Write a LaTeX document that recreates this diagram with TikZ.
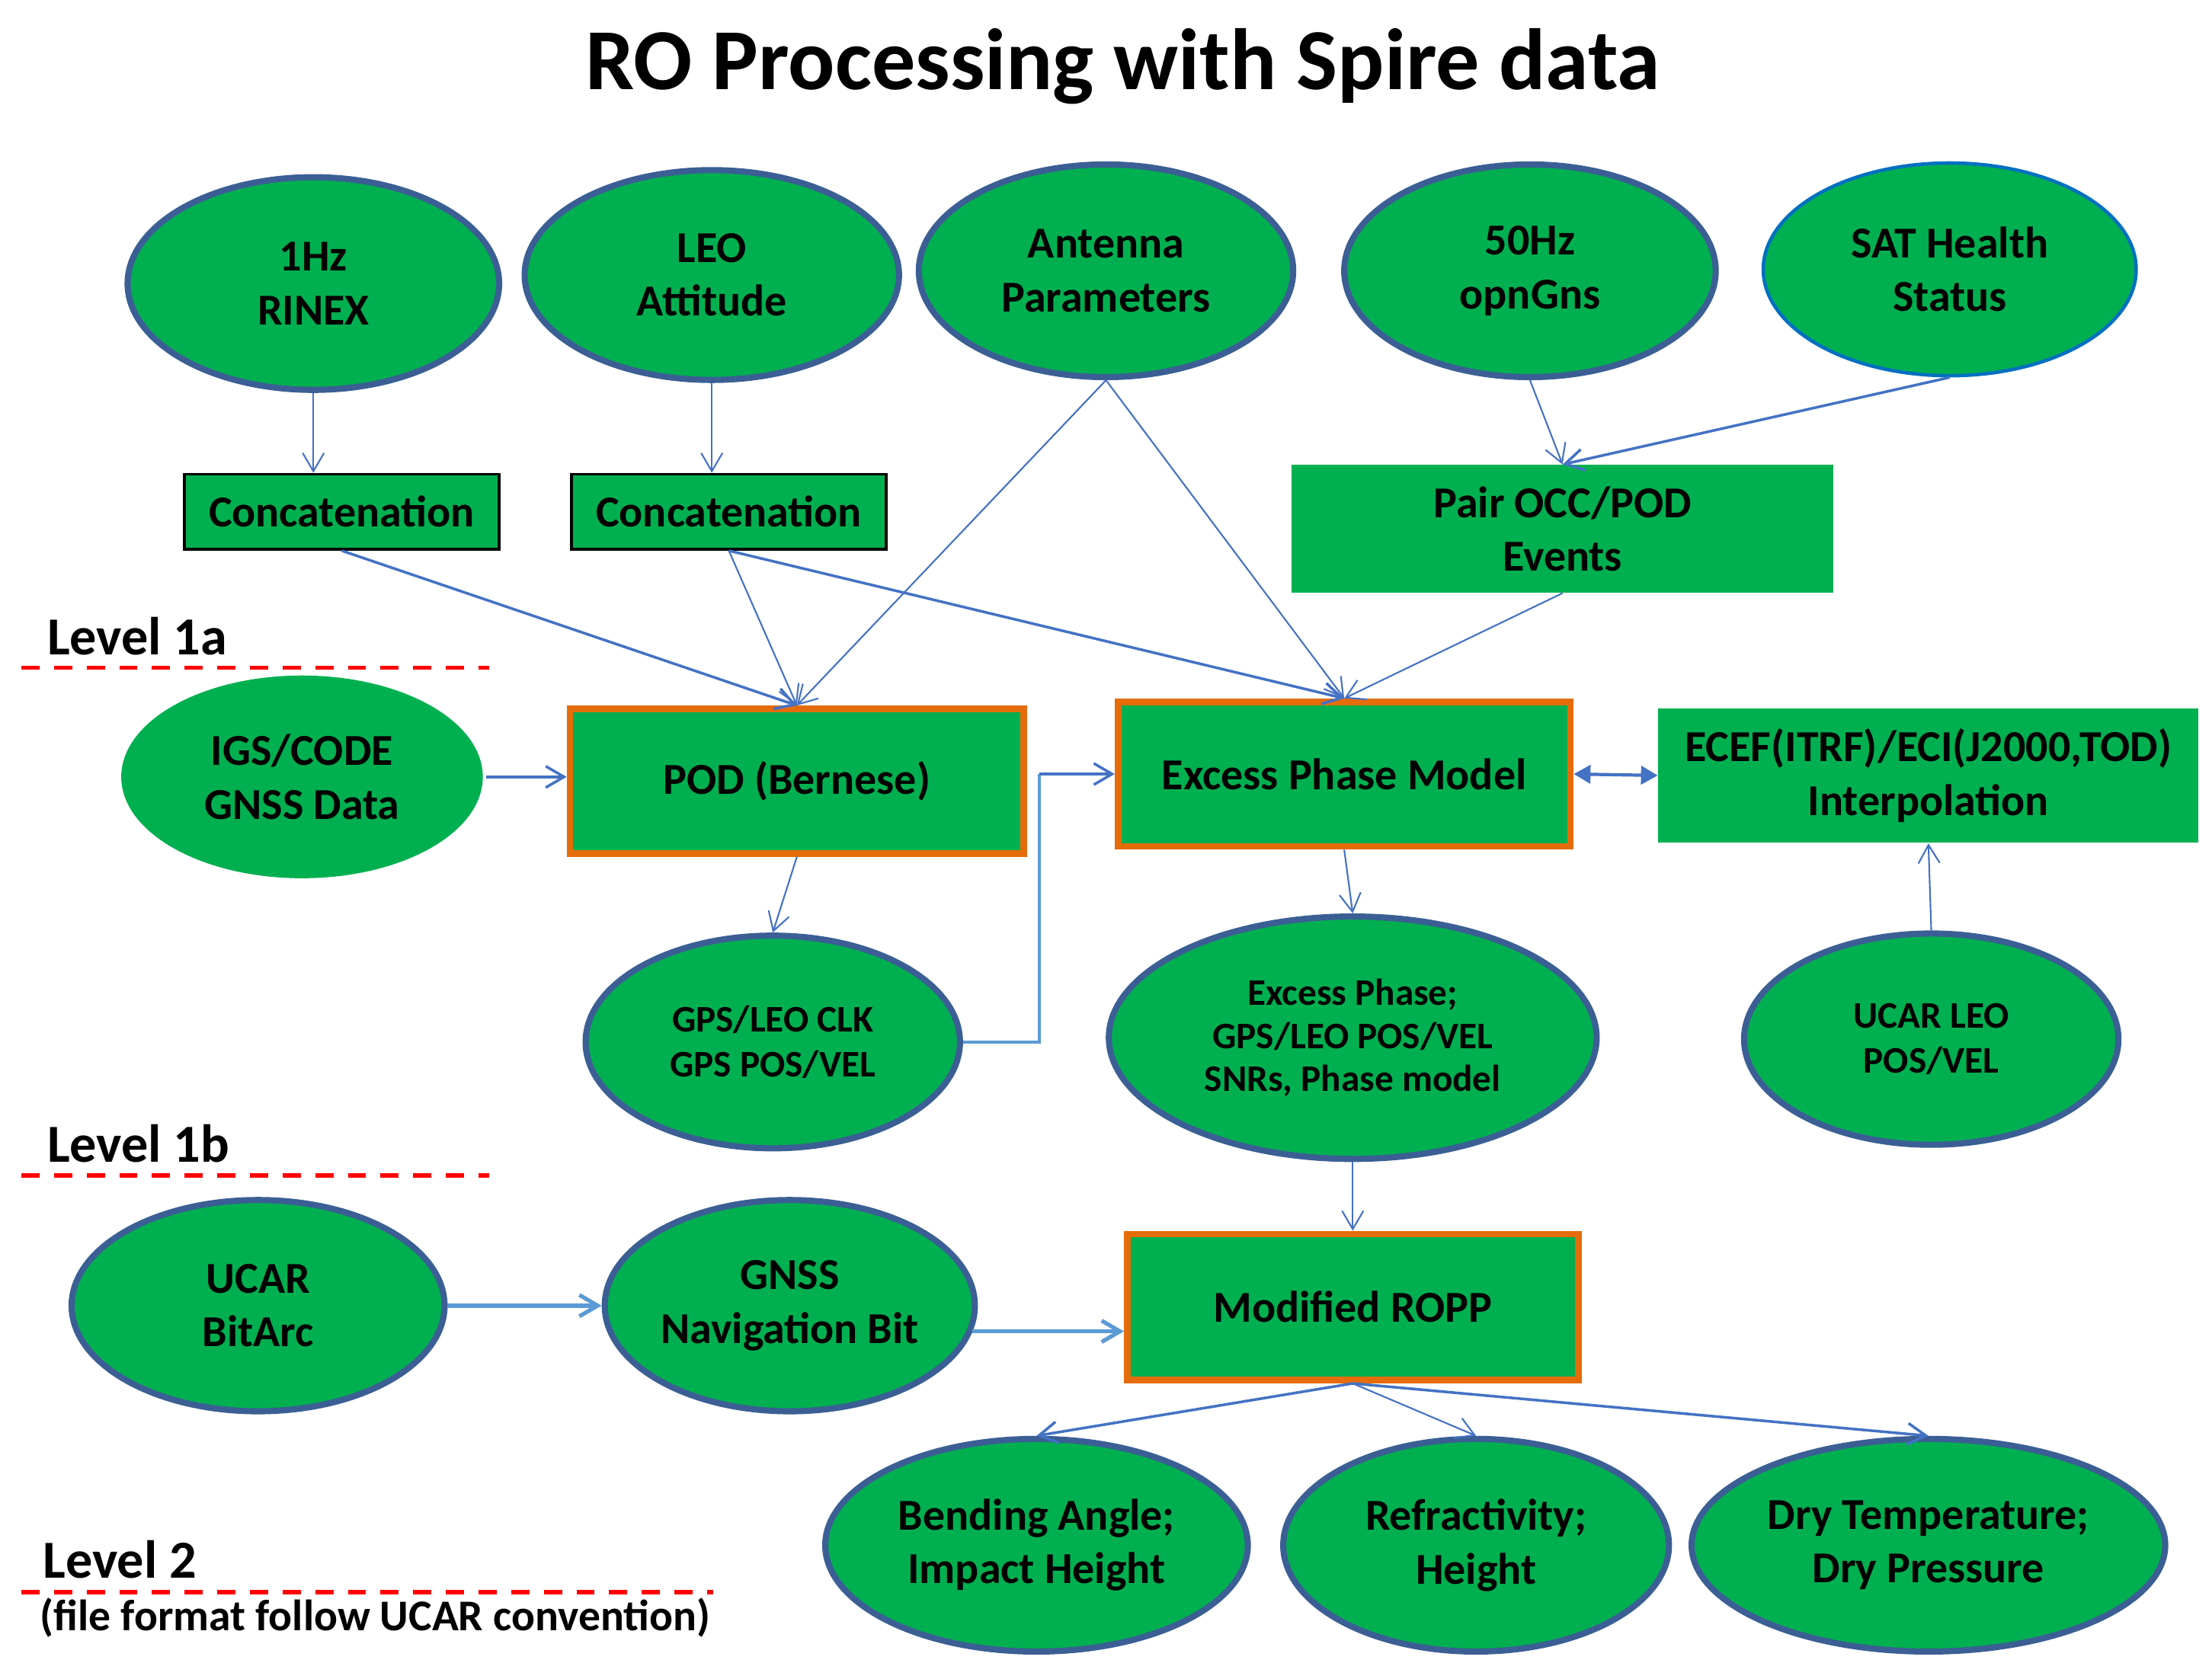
\documentclass[tikz,border=0pt]{standalone}
\usepackage{fontspec}
\setmainfont{Carlito}
\usetikzlibrary{shapes.geometric,arrows.meta,calc}
\definecolor{gfill}{HTML}{00B050}
\definecolor{eborder}{HTML}{3B5F94}
\definecolor{satborder}{HTML}{0070C0}
\definecolor{oborder}{HTML}{E46C0A}
\definecolor{ablue}{HTML}{4472C4}
\definecolor{lblue}{HTML}{5B9BD5}
\begin{document}
\begin{tikzpicture}[x=0.018609cm,y=-0.018609cm,
  bigtxt/.style={font=\bfseries\fontsize{16.5}{20}\selectfont},
  smalltxt/.style={font=\bfseries\fontsize{14}{16.8}\selectfont},
  ell/.style 2 args={ellipse, draw=eborder, line width=2.3pt, fill=gfill,
    minimum width=#1*0.018609cm, minimum height=#2*0.018609cm,
    inner sep=0pt, align=center, bigtxt},
  bx/.style 2 args={rectangle, fill=gfill,
    minimum width=#1*0.018609cm, minimum height=#2*0.018609cm,
    inner sep=0pt, align=center, bigtxt},
  obox/.style={draw=oborder, line width=2.5pt},
  kbox/.style={draw=black, line width=1pt},
  conn/.style={draw=ablue, line width=0.6pt, -{Straight Barb[length=0.24cm,width=0.28cm]}},
  connb/.style={draw=ablue, line width=1pt, -{Straight Barb[length=0.24cm,width=0.28cm]}},
  connl/.style={draw=lblue, line width=1.5pt, -{Straight Barb[length=0.24cm,width=0.28cm]}},
  dbl/.style={draw=ablue, line width=1.2pt, {Triangle[length=0.22cm,width=0.24cm]}-{Triangle[length=0.22cm,width=0.24cm]}},
  lvl/.style={anchor=base west, inner sep=0pt, font=\bfseries\fontsize{20}{24}\selectfont},
  rdash/.style={draw=red, line width=1.7pt, dash pattern=on 6.8pt off 5.4pt}
]
\useasboundingbox (0,0) rectangle (1560,1184);

% title
\node[anchor=base, inner sep=0pt, font=\bfseries\fontsize{32.5}{38}\selectfont] (title) at (792,63) {RO Processing with Spire data};

% top row
\node[ell={262}{150}] (hz1) at (221,200) {1Hz\\RINEX};
\node[ell={264}{148}] (leo) at (502,194) {LEO\\Attitude};
\node[ell={264}{150}] (ant) at (780,191) {Antenna\\Parameters};
\node[ell={262}{150}] (hz50) at (1079,191) {50Hz\\opnGns};
\node[ell={263}{150}, draw=satborder, line width=1.3pt] (sat) at (1375,190) {SAT Health\\Status};

% concatenation and pair
\node[bx={222}{53}, kbox] (cat1) at (241,361) {Concatenation};
\node[bx={222}{53}, kbox] (cat2) at (514,361) {Concatenation};
\node[bx={382}{90}] (pair) at (1102,373) {Pair OCC/POD\\Events};

% level 1a
\node[ell={255}{143}, draw=none] (igs) at (213,548) {IGS/CODE\\GNSS Data};
\node[bx={320}{102}, obox] (pod) at (562,551) {POD (Bernese)};
\node[bx={319}{102}, obox] (epm) at (948,546) {Excess Phase Model};
\node[bx={381}{95}] (ecef) at (1360,547) {ECEF(ITRF)/ECI(J2000,TOD)\\Interpolation};

\node[ell={264}{150}, font=\bfseries\fontsize{14}{17}\selectfont] (clk) at (545,735) {GPS/LEO CLK\\GPS POS/VEL};
\node[ell={344}{171}, font=\bfseries\fontsize{14}{16}\selectfont] (exp) at (954,732) {Excess Phase;\\GPS/LEO POS/VEL\\SNRs, Phase model};
\node[ell={264}{149}, font=\bfseries\fontsize{14}{17}\selectfont] (uleo) at (1362,733) {UCAR LEO\\POS/VEL};

% level 1b
\node[ell={263}{149}] (bit) at (182,921) {UCAR\\BitArc};
\node[ell={261}{149}] (nav) at (557,921) {GNSS\\Navigation Bit};
\node[bx={318}{103}, obox] (ropp) at (954,922) {Modified ROPP};

% level 2
\node[ell={298}{150}] (bend) at (731,1090) {Bending Angle;\\Impact Height};
\node[ell={272}{150}] (refr) at (1041,1090) {Refractivity;\\Height};
\node[ell={334}{150}] (dry) at (1360,1090) {Dry Temperature;\\Dry Pressure};

% level labels
\node[lvl] (l1a) at (33,462) {Level 1a};
\node[lvl] (l1b) at (33,820) {Level 1b};
\node[lvl] (l2) at (30,1113) {Level 2};
\node[anchor=base west, inner sep=0pt, font=\bfseries\fontsize{16.4}{19}\selectfont] (ff) at (28,1150) {(file format follow UCAR convention)};
\coordinate (d1a) at (15,471); \coordinate (d1ae) at (345,471);
\coordinate (d1b) at (15,829); \coordinate (d1be) at (345,829);
\coordinate (d2) at (15,1123); \coordinate (d2e) at (503,1123);
\draw[rdash] (d1a) -- (d1ae);
\draw[rdash] (d1b) -- (d1be);
\draw[rdash] (d2) -- (d2e);

% connectors
\draw[conn] (hz1.south) -- (hz1.south |- cat1.north);
\draw[conn] (leo.south) -- (leo.south |- cat2.north);
\draw[conn] (ant.south) -- (pod.north);
\draw[conn] (ant.south) -- (epm.north);
\draw[conn] (hz50.south) -- (pair.north);
\draw[connb] (sat.south) -- (pair.north);
\draw[connb] (cat1.south) -- (pod.north);
\draw[conn] (cat2.south) -- (pod.north);
\draw[connb] (cat2.south) -- (epm.north);
\draw[conn] (pair.south) -- (epm.north);
\draw[connb] (igs.east) -- (igs.east -| pod.west);
\draw[conn] (pod.south) -- (clk.north);
\coordinate (bendpt) at (733,546);
\draw[draw=lblue, line width=1.2pt] (clk.east) -| (bendpt);
\draw[connb] (bendpt) -- (epm.west);
\draw[dbl] (epm.east) -- (ecef.west);
\draw[conn] (uleo.north) -- (ecef.south);
\draw[conn] (epm.south) -- (exp.north);
\draw[conn] (exp.south) -- (ropp.north);
\draw[connl] (bit.east) -- (nav.west);
\draw[connl] (nav.-8) -- (nav.-8 -| ropp.west);
\draw[connb] (ropp.south) -- (bend.north);
\draw[conn] (ropp.south) -- (refr.north);
\draw[connb] (ropp.south) -- (dry.north);
\end{tikzpicture}
\end{document}
